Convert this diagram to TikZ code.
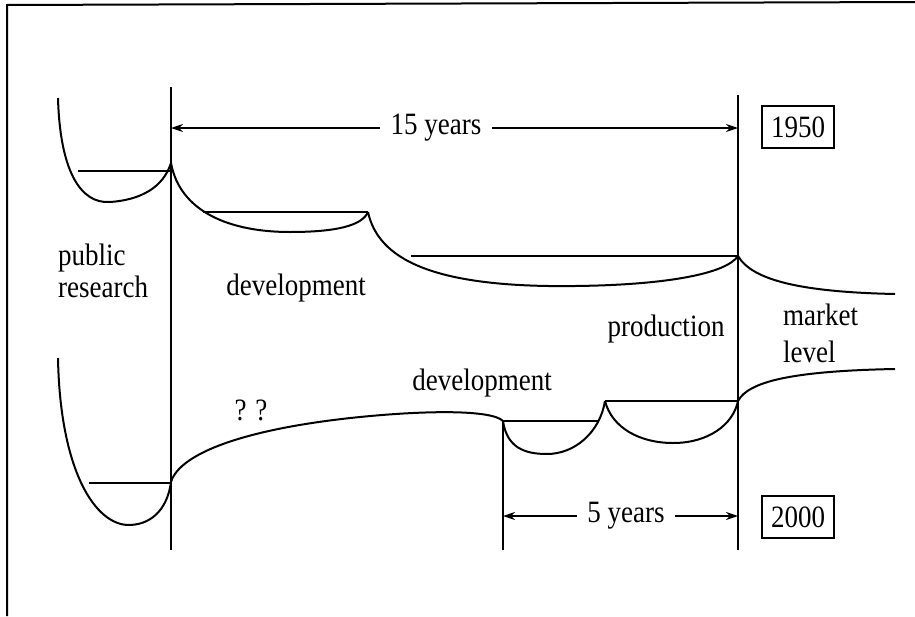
\documentclass[tikz,border=0pt]{standalone}
\usepackage{fontspec}
\setmainfont{Liberation Serif}
\usepackage{tikz}
\usetikzlibrary{arrows.meta}
\newcommand{\tallt}[1]{\scalebox{1}[1.15]{#1}}
\tikzstyle{lifecurve} = [draw=black, line width=2pt]
\tikzstyle{plateau} = [draw=black, line width=1.5pt]
\tikzstyle{stage} = [draw=black, line width=1.4pt]
\tikzstyle{timespan} = [draw=black, line width=1.3pt, -{Stealth[length=12pt,width=8pt]}]
\tikzstyle{phase} = [inner sep=0pt, font=\fontsize{27}{32}\selectfont]
\tikzstyle{yearbox} = [draw=black, line width=1.4pt, rectangle, minimum width=72pt,
minimum height=42pt, inner sep=0pt, font=\fontsize{27}{32}\selectfont]
\begin{document}
\begin{tikzpicture}[x=1pt,y=-1pt]
        \useasboundingbox (0,0) rectangle (915,616);
        \draw[line width=2pt] (7,616) -- (7,5) -- (915,2);
        \coordinate (prtop) at (171,87);
        \coordinate (prbot) at (171,550);
        \coordinate (mktop) at (738,95);
        \coordinate (mkbot) at (738,550);
        \coordinate (dvbot) at (503,550);
        \coordinate (pr50) at (171,163);
        \coordinate (dv50) at (368,212);
        \coordinate (mk50) at (738,256);
        \coordinate (pr00) at (171,482);
        \coordinate (dv00) at (503,421);
        \coordinate (pd00) at (605,401);
        \coordinate (mk00) at (738,401);
        \coordinate (a15l) at (171,128);
        \coordinate (a15r) at (738,128);
        \coordinate (a5l) at (503,516);
        \coordinate (a5r) at (738,516);
        \draw[stage] (prtop) -- (prbot);
        \draw[stage] (mktop) -- (mkbot);
        \draw[stage] (dv00) -- (dvbot);
        \draw[lifecurve] (58,98) .. controls (60,170) and (80,204) .. (110,202)
            .. controls (140,200) and (163,188) .. (pr50);
        \draw[lifecurve] (pr50) .. controls (180,212) and (230,232) .. (290,232)
            .. controls (335,232) and (362,226) .. (dv50);
        \draw[lifecurve] (dv50) .. controls (378,258) and (430,288) .. (575,286)
            .. controls (665,285) and (726,274) .. (mk50);
        \draw[lifecurve] (mk50) .. controls (752,280) and (800,292) .. (895,294);
        \draw[plateau] (78,171) -- (171,171);
        \draw[plateau] (203,212) -- (dv50);
        \draw[plateau] (411,256) -- (mk50);
        \draw[lifecurve] (58,358) .. controls (60,470) and (95,526) .. (130,525)
            .. controls (155,524) and (168,505) .. (pr00);
        \draw[lifecurve] (pr00) .. controls (180,452) and (250,428) .. (360,417)
            .. controls (430,410) and (492,410) .. (dv00);
        \draw[lifecurve] (dv00) .. controls (507,448) and (525,454) .. (547,454)
            .. controls (575,454) and (600,432) .. (pd00);
        \draw[lifecurve] (pd00) .. controls (612,428) and (640,443) .. (673,443)
            .. controls (708,443) and (733,425) .. (mk00);
        \draw[lifecurve] (mk00) .. controls (748,382) and (790,371) .. (895,369);
        \draw[plateau] (89,483) -- (171,483);
        \draw[plateau] (dv00) -- (598,421);
        \draw[plateau] (pd00) -- (mk00);
        \node[phase, inner xsep=10pt] (fifteen) at (436,128) {\tallt{15 years}};
        \draw[timespan] (fifteen) -- (a15l);
        \draw[timespan] (fifteen) -- (a15r);
        \node[phase, inner xsep=10pt] (five) at (626,516) {\tallt{5 years}};
        \draw[timespan] (five) -- (a5l);
        \draw[timespan] (five) -- (a5r);
        \node[yearbox] (y1950) at (798,127) {\tallt{1950}};
        \node[yearbox] (y2000) at (798,517) {\tallt{2000}};
        \node[phase, anchor=base west, align=left] (pubres) at (58,297) {\tallt{public}\\\tallt{research}};
        \node[phase, anchor=base] (dev50) at (296,295) {\tallt{development}};
        \node[phase, anchor=base] (dev00) at (482,390) {\tallt{development}};
        \node[phase, anchor=base] (prod) at (666,336) {\tallt{production}};
        \node[phase, anchor=base west, align=left, font=\fontsize{27}{37}\selectfont] (market) at (783,362) {\tallt{market}\\\tallt{level}};
        \node[phase, anchor=base] (unknown) at (251,420) {\tallt{? ?}};
    \end{tikzpicture}
\end{document}
